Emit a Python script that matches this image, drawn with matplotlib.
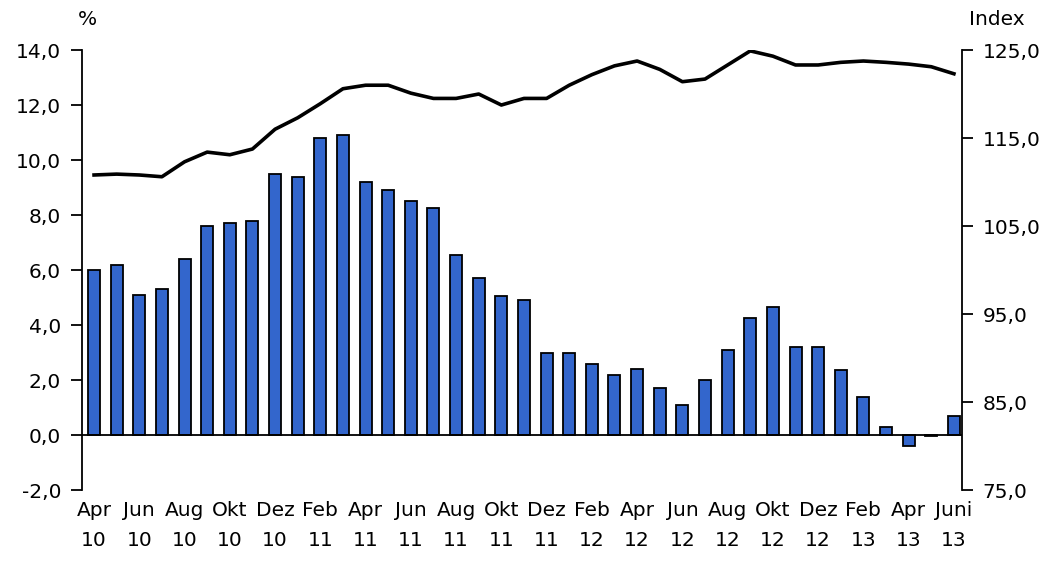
import matplotlib.pyplot as plt
import numpy as np

# monthly data Apr 2010 - Jun 2013
months = ["Apr\n10", "", "Jun\n10", "", "Aug\n10", "", "Okt\n10", "", "Dez\n10", "",
          "Feb\n11", "", "Apr\n11", "", "Jun\n11", "", "Aug\n11", "", "Okt\n11", "",
          "Dez\n11", "", "Feb\n12", "", "Apr\n12", "", "Jun\n12", "", "Aug\n12", "",
          "Okt\n12", "", "Dez\n12", "", "Feb\n13", "", "Apr\n13", "", "Juni\n13"]

change_pct = [6.0, 6.2, 5.1, 5.3, 6.4, 7.6, 7.7, 7.8, 9.5, 9.4,
              10.8, 10.9, 9.2, 8.9, 8.5, 8.25, 6.55, 5.7, 5.05, 4.9,
              3.0, 3.0, 2.6, 2.2, 2.4, 1.7, 1.1, 2.0, 3.1, 4.25,
              4.65, 3.2, 3.2, 2.35, 1.4, 0.3, -0.4, -0.05, 0.7]

index_vals = [110.8, 110.9, 110.8, 110.6, 112.3, 113.4, 113.1, 113.75, 116.0, 117.3,
              118.9, 120.6, 121.0, 121.0, 120.1, 119.5, 119.5, 120.0, 118.75, 119.5,
              119.5, 121.0, 122.2, 123.2, 123.75, 122.8, 121.4, 121.7, 123.3, 124.9,
              124.3, 123.3, 123.3, 123.6, 123.75, 123.6, 123.4, 123.1, 122.3]

left_ticks = [-2, 0, 2, 4, 6, 8, 10, 12, 14]
left_labels = ["-2,0", "0,0", "2,0", "4,0", "6,0", "8,0", "10,0", "12,0", "14,0"]
right_ticks = [75, 85, 95, 105, 115, 125]
right_labels = ["75,0", "85,0", "95,0", "105,0", "115,0", "125,0"]

plt.rcParams['font.family'] = ['DejaVu Sans']
fs = 14.5

fig = plt.figure(figsize=(10.6, 5.62), dpi=100)
ax = fig.add_axes([0.0774, 0.128, 0.83, 0.783])
x = np.arange(len(change_pct))

ax.bar(x, change_pct, width=0.53, color='#3366CC', edgecolor='black', linewidth=1.3, zorder=2)
ax.axhline(0, color='black', linewidth=1.3, zorder=3)
ax.set_ylim(-2, 14)
ax.set_xlim(-0.53, 38.35)
ax.set_yticks(left_ticks)
ax.set_yticklabels(left_labels, fontsize=fs)
ax.set_xticks(x)
ax.set_xticklabels(months, fontsize=fs, linespacing=1.75)
ax.tick_params(axis='x', length=0, pad=8)
ax.tick_params(axis='y', direction='out', length=8, width=1.3, pad=7)
for s in ['top', 'right', 'bottom']:
    ax.spines[s].set_visible(False)
ax.spines['left'].set_linewidth(1.3)

ax2 = ax.twinx()
ax2.plot(x, index_vals, color='black', linewidth=2.6, zorder=4)
ax2.set_ylim(75, 125)
ax2.set_yticks(right_ticks)
ax2.set_yticklabels(right_labels, fontsize=fs)
ax2.tick_params(axis='y', direction='out', length=8, width=1.3, pad=7)
for s in ['top', 'left', 'bottom']:
    ax2.spines[s].set_visible(False)
ax2.spines['right'].set_linewidth(1.3)

fig.text(0.073, 0.965, "%", fontsize=fs, va='center')
fig.text(0.914, 0.965, "Index", fontsize=fs, va='center')

fig.savefig("out.png", dpi=100)
